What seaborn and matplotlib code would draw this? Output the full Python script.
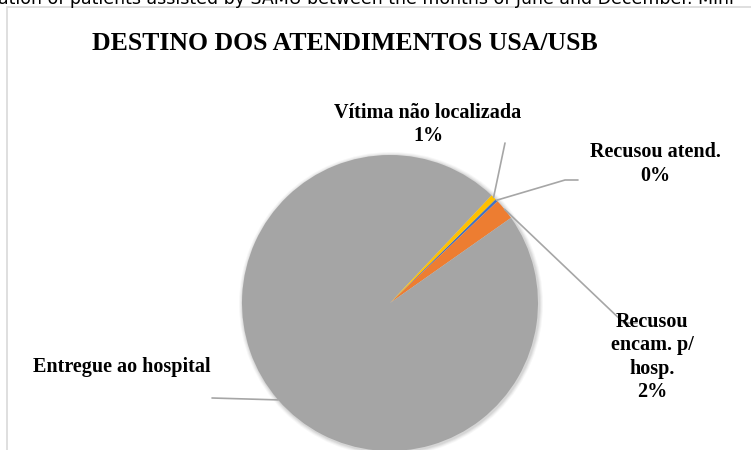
import numpy as np
import matplotlib
matplotlib.use("Agg")
import matplotlib.pyplot as plt
import seaborn as sns
from matplotlib.patches import Rectangle, Circle

# ---- data ----
categories = ["Recusou atend.", "Recusou encam. p/ hosp.", "Entregue ao hospital", "Vítima não localizada"]
values = [0.3, 2.3, 96.8, 0.6]
pct_labels = ["0%", "2%", "97%", "1%"]
title = "DESTINO DOS ATENDIMENTOS USA/USB"
caption = "ation of patients assisted by SAMU between the months of June and December. Mini"

sns.set_theme(style="white")
plt.rcParams["font.family"] = ["Liberation Serif", "DejaVu Serif"]
plt.rcParams["text.color"] = "#000000"

colors = sns.color_palette(["#4472C4", "#ED7D31", "#A5A5A5", "#FFC000"])

W, H = 751, 450
fig = plt.figure(figsize=(W / 100, H / 100), dpi=100)
ax = fig.add_axes([0, 0, 1, 1])

def Y(y):
    return H - y

cx, cy, R = 390, Y(303), 148

# soft shadow halo
for i, a in enumerate([0.05, 0.05, 0.04, 0.03]):
    ax.add_patch(Circle((cx + 1, cy - 1), R + 1 + i, color="#000000", alpha=a, lw=0, zorder=1))

wedges, _ = ax.pie(values, colors=colors, startangle=44.5, counterclock=False,
                   center=(cx, cy), radius=R, wedgeprops=dict(linewidth=0, zorder=2))
for w in wedges:
    w.set_zorder(2)

ax.set_xlim(0, W)
ax.set_ylim(0, H)
ax.set_aspect("equal")
ax.axis("off")

# chart frame
ax.add_patch(Rectangle((7, Y(460)), W, 453, fill=False, ec="#D9D9D9", lw=1.2, zorder=0))

# caption cut at top (as in the reference)
fig.text(-0.003, 1 - 3.5 / H, caption, fontsize=12.5, family="DejaVu Sans", color="#000000",
         ha="left", va="baseline")

ax.text(345, Y(43), title, fontsize=18.5, fontweight="bold", ha="center", va="center", color="#000000")

def anchor(w):
    t = np.deg2rad((w.theta1 + w.theta2) / 2)
    return cx + R * np.cos(t), cy + R * np.sin(t)

lc = "#A6A6A6"
lab_fs = 14.5
ls = 1.22

# Vítima não localizada
x0, y0 = anchor(wedges[3])
ax.plot([x0, 505], [y0, Y(143)], color=lc, lw=1.2, zorder=3)
ax.text(428, Y(124.5), categories[3] + "\n" + pct_labels[3], fontsize=lab_fs, fontweight="bold",
        ha="center", va="center", linespacing=ls, color="#000000")

# Recusou atend.
x0, y0 = anchor(wedges[0])
ax.plot([x0, 565, 578], [y0, Y(180), Y(180)], color=lc, lw=1.2, zorder=3)
ax.text(655, Y(164), categories[0] + "\n" + pct_labels[0], fontsize=lab_fs, fontweight="bold",
        ha="center", va="center", linespacing=ls, color="#000000")

# Recusou encam. p/ hosp.
x0, y0 = anchor(wedges[1])
ax.plot([x0, 624, 637], [y0, Y(323), Y(323)], color=lc, lw=1.2, zorder=3)
ax.text(652, Y(357), "Recusou\nencam. p/\nhosp.\n" + pct_labels[1], fontsize=lab_fs, fontweight="bold",
        ha="center", va="center", linespacing=ls, color="#000000")

# Entregue ao hospital
x0, y0 = anchor(wedges[2])
ax.plot([x0, 212], [y0, Y(398)], color=lc, lw=1.2, zorder=3)
ax.text(122, Y(367), categories[2], fontsize=lab_fs, fontweight="bold", ha="center", va="center",
        color="#000000")

fig.savefig("out.png", dpi=100)
